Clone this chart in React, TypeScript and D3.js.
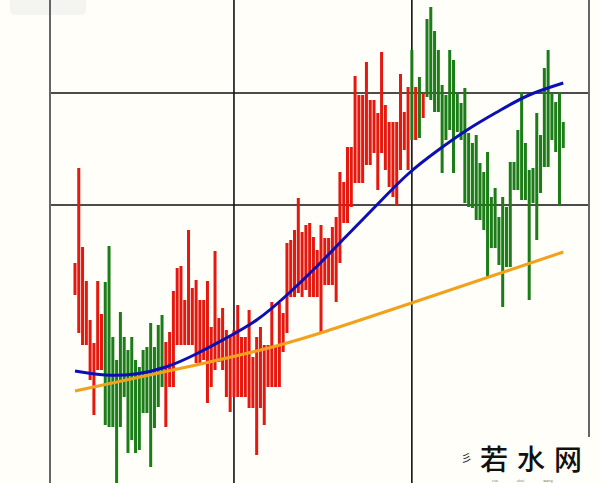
import * as d3 from "d3";

const WIDTH = 600;
const HEIGHT = 483;

// bar ranges (price units)
const highs = [
  22.0, 31.5, 23.6, 20.2, 16.3, 14.0, 20.2, 16.9,
  20.1, 23.7, 14.6, 12.3, 17.1, 14.6, 13.3, 14.6, 12.3, 11.6, 13.3, 13.6, 16.0, 13.6, 15.8, 16.8,
  14.1, 15.1, 19.2, 21.5, 21.7, 18.3, 25.3, 19.5, 20.3, 18.3, 18.3, 20.2, 15.6, 23.2, 16.5, 17.5,
  15.3, 14.8, 15.3, 17.8, 14.6, 14.6, 17.3, 12.6, 14.6, 15.6, 13.8, 13.8, 18.1, 13.8, 18.0, 17.0,
  24.0, 24.3, 25.3, 28.5, 25.1, 25.8, 26.0, 24.6, 23.3, 25.8, 24.5, 24.5, 25.6, 26.6, 31.1, 30.1,
  33.6, 33.6, 40.7, 38.8, 38.8, 42.1, 38.3, 38.3, 37.0, 43.1, 37.8, 36.1, 36.1, 36.1, 40.9, 37.1,
  39.6, 43.3, 39.6, 40.6, 39.0, 46.4, 47.6, 45.2, 43.3, 39.8, 38.8, 43.3, 42.3, 39.0, 38.0, 39.5,
  35.0, 34.0, 34.8, 32.0, 31.1, 33.1, 28.6, 29.5, 26.6, 28.6, 27.6, 32.1, 32.1, 35.3, 39.1, 34.0,
  31.3, 31.5, 37.0, 34.8, 41.5, 43.3, 39.0, 38.1, 39.1, 36.1,
];
const lows = [
  18.8, 15.0, 13.8, 13.8, 10.3, 6.8, 11.3, 11.3,
  5.8, 5.6, 5.6, -1.0, 5.6, 8.6, 3.0, 4.3, 3.0, 3.3, 7.0, 7.0, 1.6, 5.5, 7.6, 9.6,
  5.6, 9.6, 9.6, 13.8, 13.8, 13.8, 13.8, 13.8, 12.0, 12.0, 12.3, 8.0, 9.6, 11.3, 12.1, 11.3,
  8.6, 7.1, 8.6, 8.6, 8.6, 8.6, 7.5, 7.5, 2.8, 7.5, 5.8, 9.6, 9.6, 9.6, 9.6, 13.1,
  15.0, 18.6, 18.6, 19.0, 18.6, 19.3, 18.6, 18.6, 18.6, 15.1, 19.8, 19.8, 19.8, 18.1, 22.0, 26.0,
  26.0, 27.6, 30.0, 30.0, 30.0, 31.8, 31.8, 33.0, 29.3, 33.0, 31.3, 29.6, 28.6, 27.8, 31.3, 33.3,
  31.3, 34.3, 34.3, 34.5, 36.5, 38.6, 38.3, 37.1, 37.1, 31.0, 34.3, 35.3, 31.0, 35.1, 34.3, 28.0,
  27.6, 27.5, 26.3, 26.3, 25.3, 20.6, 23.5, 23.5, 21.8, 17.6, 21.6, 21.6, 29.3, 29.3, 28.3, 28.3,
  18.3, 28.0, 24.3, 29.0, 31.6, 31.6, 34.3, 33.1, 27.8, 33.5,
];
// R = red bar, G = green bar
const sides =
  "RRRRRRRR" + "GGGGGGGGGGGGGGGG" + "R".repeat(65) + "GRGR" + "G".repeat(37);

// smooth trend (blue) and slow trend (orange), sampled at bar indexes
const blueIdx = [0, 8, 16, 24, 32, 40, 48, 56, 64, 72, 80, 88, 96, 104, 112, 120, 129];
const blueVals = [11.2, 10.8, 10.9, 11.6, 12.9, 14.5, 16.3, 18.8, 21.7, 24.8, 27.9, 30.9, 33.3, 35.4, 37.2, 38.8, 40.0];
const orangeIdx = [0, 32, 48, 64, 96, 129];
const orangeVals = [9.2, 11.8, 13.2, 14.9, 18.9, 23.1];

const gridX = [42, 89];
const gridY = [27.8, 39.0];

export default function App() {
  const x = d3.scaleLinear().domain([-6.6, 135.8]).range([50, 589]);
  const y = d3.scaleLinear().domain([0, 48.3]).range([HEIGHT, 0]);
  const barW = 3;

  const line = d3
    .line<[number, number]>()
    .x((d) => x(d[0]))
    .y((d) => y(d[1]))
    .curve(d3.curveNatural);

  const bluePath = line(blueIdx.map((d, i) => [d, blueVals[i]]));
  const orangePath = line(orangeIdx.map((d, i) => [d, orangeVals[i]]));

  const [x0, x1] = x.range();

  return (
    <div style={{ position: "absolute", left: 0, top: 0 }}>
      <svg width={WIDTH} height={HEIGHT} style={{ display: "block" }}>
        <rect width={WIDTH} height={HEIGHT} fill="#fffef8" />
        <rect x={10} y={-4} width={76} height={19} rx={5} fill="#efefec" opacity={0.7} />

        {/* grid */}
        {gridY.map((v) => (
          <line key={"h" + v} x1={x0} x2={x1} y1={y(v)} y2={y(v)} stroke="#111" strokeWidth={1.6} />
        ))}
        {gridX.map((v) => (
          <line key={"v" + v} x1={x(v)} x2={x(v)} y1={0} y2={HEIGHT} stroke="#111" strokeWidth={1.6} />
        ))}
        <line x1={x0} x2={x0} y1={0} y2={HEIGHT} stroke="#666" strokeWidth={2} />
        <line x1={x1} x2={x1} y1={0} y2={437} stroke="#666" strokeWidth={2} />

        {/* bars */}
        {highs.map((h, i) => (
          <rect
            key={i}
            x={x(i) - barW / 2}
            y={y(h)}
            width={barW}
            height={y(lows[i]) - y(h)}
            fill={sides[i] === "R" ? "#e5180f" : "#1c7d18"}
          />
        ))}

        <path d={orangePath ?? ""} fill="none" stroke="#f2a11c" strokeWidth={3} />
        <path d={bluePath ?? ""} fill="none" stroke="#0c10b4" strokeWidth={3} />

        {/* watermark */}
        <text x={461} y={462} fontSize={11} fill="#222" fontFamily="Noto Sans CJK SC">彡</text>
        <text
          x={480}
          y={470}
          fontSize={28}
          letterSpacing={9}
          fill="#111"
          fontWeight={500}
          fontFamily="Noto Sans CJK SC"
        >
          若水网
        </text>
        <text x={492} y={482} fontSize={3.5} fill="#777" fontFamily="DejaVu Sans" wordSpacing={18}>
          ruo shui wang
        </text>
      </svg>
    </div>
  );
}
